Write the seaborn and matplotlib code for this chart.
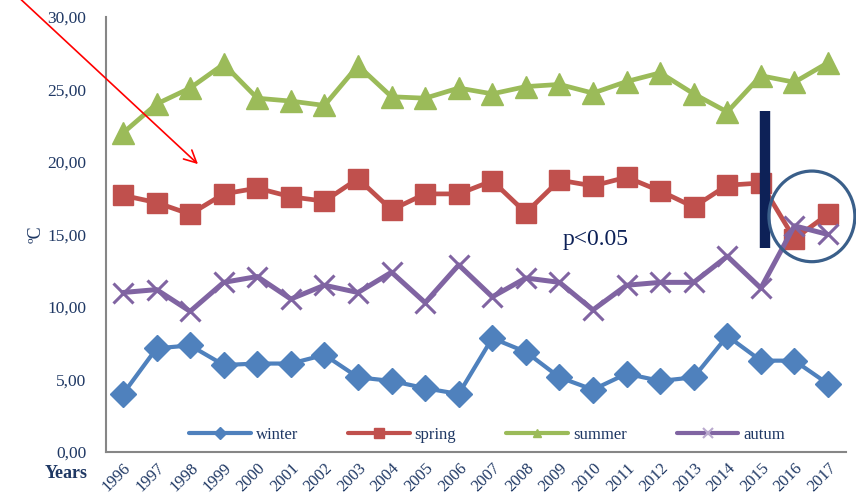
import matplotlib.pyplot as plt
import matplotlib.patches as mpatches
from matplotlib.lines import Line2D
import pandas as pd
import seaborn as sns

years = list(range(1996, 2018))
winter = [4.0, 7.15, 7.35, 6.0, 6.1, 6.1, 6.7, 5.15, 4.9, 4.4, 4.0, 7.85,
          6.9, 5.15, 4.3, 5.4, 4.9, 5.15, 8.0, 6.3, 6.3, 4.7]
spring = [17.7, 17.2, 16.4, 17.8, 18.2, 17.6, 17.3, 18.85, 16.7, 17.8, 17.8, 18.7,
          16.5, 18.75, 18.35, 18.95, 18.0, 16.9, 18.4, 18.55, 14.7, 16.4]
summer = [22.0, 24.0, 25.1, 26.75, 24.4, 24.2, 23.9, 26.65, 24.5, 24.4, 25.1, 24.7,
          25.2, 25.35, 24.75, 25.55, 26.15, 24.7, 23.45, 25.95, 25.5, 26.85]
autum = [11.0, 11.2, 9.7, 11.7, 12.1, 10.55, 11.5, 11.0, 12.4, 10.3, 12.9, 10.7,
         12.0, 11.7, 9.8, 11.5, 11.7, 11.7, 13.5, 11.3, 15.6, 15.0]
seasons = ["winter", "spring", "summer", "autum"]

df = pd.DataFrame({"year": years, "winter": winter, "spring": spring,
                   "summer": summer, "autum": autum})
df = pd.melt(df, ["year"], var_name="season", value_name="temp")

# Excel-like look for each series
styles = {
    "winter": dict(color="#4F81BD", marker="D", ms=13, mew=1, lw=3.0, leg_ms=6),
    "spring": dict(color="#C0504D", marker="s", ms=14, mew=1, lw=3.4, leg_ms=7),
    "summer": dict(color="#9BBB59", marker="^", ms=16, mew=1, lw=3.4, leg_ms=6),
    "autum": dict(color="#8064A2", marker="x", ms=15, mew=2.2, lw=3.6, leg_ms=7),
}
navy = "#1F3864"

sns.set_style("white")
plt.rcParams["font.family"] = ["Liberation Serif", "DejaVu Serif"]

fig = plt.figure(figsize=(8.56, 4.98), dpi=100)
ax = fig.add_axes([106 / 856, 1 - 452 / 498, 740 / 856, 435 / 498])

for s in seasons:
    st = styles[s]
    sns.lineplot(data=df[df["season"] == s], x="year", y="temp", ax=ax,
                 color=st["color"], marker=st["marker"], markersize=st["ms"],
                 markeredgecolor=st["color"], markerfacecolor=st["color"],
                 markeredgewidth=st["mew"], linewidth=st["lw"], zorder=3,
                 clip_on=False)

ax.set_xlim(1996 - 0.506, 2017 + 0.536)
ax.set_ylim(0, 30)
ax.set_xticks(years)
ax.set_xticklabels([str(y) for y in years], rotation=45, ha="right",
                   rotation_mode="anchor", fontsize=12, color=navy)
ax.set_yticks(range(0, 31, 5))
ax.set_yticklabels([f"{v},00" for v in range(0, 31, 5)], fontsize=12.5, color=navy)
ax.tick_params(axis="x", length=0, pad=6)
ax.tick_params(axis="y", direction="in", length=4, width=1, color="#808080", pad=14)

for side in ["top", "right"]:
    ax.spines[side].set_visible(False)
for side in ["left", "bottom"]:
    ax.spines[side].set_color("#868686")
    ax.spines[side].set_linewidth(1.5)

ax.set_xlabel("")
ax.set_ylabel("ºC", fontsize=13, color=navy)
ax.yaxis.set_label_coords(-0.083, 0.5)
fig.text(88 / 856, 1 - 473 / 498, "Years", ha="right", va="center",
         fontsize=13, fontweight="bold", color=navy)

# legend with long lines and small markers
handles = [Line2D([0], [0], color=styles[s]["color"], lw=3,
                  marker=styles[s]["marker"], markersize=styles[s]["leg_ms"],
                  markeredgewidth=1.5 if s == "autum" else 1,
                  markeredgecolor="#B9A9CE" if s == "autum" else styles[s]["color"],
                  label=s) for s in seasons]
ax.legend(handles=handles, ncol=4, loc="center", bbox_to_anchor=(0.515, 0.04),
          frameon=False, handlelength=3.7, handletextpad=0.3, columnspacing=3.0,
          prop={"size": 12}, labelcolor=navy)

# annotations: significance bar, circle, p-value, arrow
ax.vlines(2015.12, 14.1, 23.5, color="#0D2157", lw=7.5, zorder=4)
ax.add_patch(mpatches.Ellipse((2016.52, 16.25), 2.56, 6.25, fill=False,
                              edgecolor="#3A5F8A", lw=2.3, zorder=5, clip_on=False))
ax.text(2009.1, 14.3, "p<0.05", fontsize=17, color="#0D2157", va="baseline")
ax.annotate("", xy=(200, 332), xytext=(14, 505), xycoords="figure pixels",
            textcoords="figure pixels",
            arrowprops=dict(arrowstyle="->", color="red", lw=1.2, mutation_scale=22))

fig.savefig("out.png", dpi=100)
